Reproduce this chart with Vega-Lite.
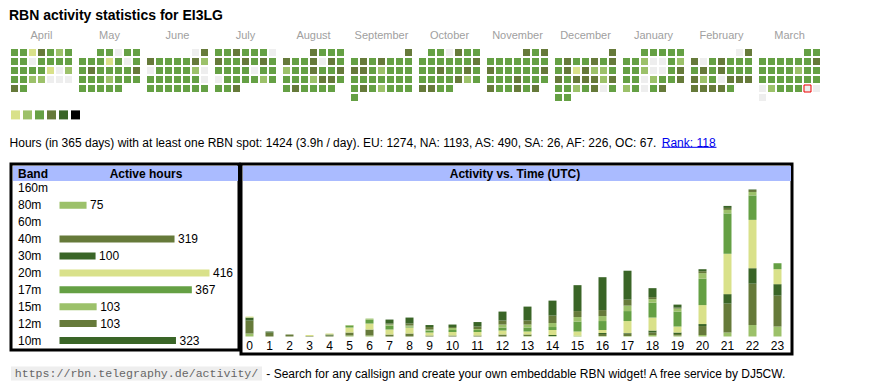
{
  "$schema": "https://vega.github.io/schema/vega-lite/v6.json",
  "background": "white",
  "padding": {"left": 8, "top": 9, "right": 5, "bottom": 5},
  "title": {"text": "RBN activity statistics for EI3LG", "anchor": "start", "fontSize": 14, "fontWeight": "bold", "font": "Liberation Sans", "color": "#000000", "offset": 7},
  "config": {
    "view": {"stroke": null},
    "font": "Liberation Sans",
    "axis": {"labelFont": "Liberation Sans", "titleFont": "Liberation Sans"},
    "header": {"labelFont": "Liberation Sans"},
    "text": {"font": "Liberation Sans"}
  },
  "datasets": {
    "cal": [
      {"m":"April","w":0,"r":0,"l":3},{"m":"April","w":1,"r":0,"l":3},{"m":"April","w":2,"r":0,"l":1},{"m":"April","w":3,"r":0,"l":4},{"m":"April","w":4,"r":0,"l":3},{"m":"April","w":5,"r":0,"l":2},{"m":"April","w":6,"r":0,"l":3},
      {"m":"April","w":0,"r":1,"l":3},{"m":"April","w":1,"r":1,"l":3},{"m":"April","w":2,"r":1,"l":0},{"m":"April","w":3,"r":1,"l":3},{"m":"April","w":4,"r":1,"l":3},{"m":"April","w":5,"r":1,"l":3},{"m":"April","w":6,"r":1,"l":3},
      {"m":"April","w":0,"r":2,"l":3},{"m":"April","w":1,"r":2,"l":3},{"m":"April","w":2,"r":2,"l":3},{"m":"April","w":3,"r":2,"l":3},{"m":"April","w":4,"r":2,"l":1},{"m":"April","w":5,"r":2,"l":0},{"m":"April","w":6,"r":2,"l":2},
      {"m":"April","w":0,"r":3,"l":3},{"m":"April","w":1,"r":3,"l":3},{"m":"April","w":2,"r":3,"l":2},{"m":"April","w":3,"r":3,"l":2},{"m":"April","w":4,"r":3,"l":0},{"m":"April","w":5,"r":3,"l":0},{"m":"April","w":6,"r":3,"l":0},
      {"m":"April","w":0,"r":4,"l":4},{"m":"April","w":1,"r":4,"l":3},
      {"m":"May","w":2,"r":0,"l":3},{"m":"May","w":3,"r":0,"l":3},{"m":"May","w":4,"r":0,"l":0},{"m":"May","w":5,"r":0,"l":3},{"m":"May","w":6,"r":0,"l":3},
      {"m":"May","w":0,"r":1,"l":3},{"m":"May","w":1,"r":1,"l":3},{"m":"May","w":2,"r":1,"l":3},{"m":"May","w":3,"r":1,"l":1},{"m":"May","w":4,"r":1,"l":3},{"m":"May","w":5,"r":1,"l":0},{"m":"May","w":6,"r":1,"l":3},
      {"m":"May","w":0,"r":2,"l":3},{"m":"May","w":1,"r":2,"l":4},{"m":"May","w":2,"r":2,"l":3},{"m":"May","w":3,"r":2,"l":3},{"m":"May","w":4,"r":2,"l":3},{"m":"May","w":5,"r":2,"l":3},{"m":"May","w":6,"r":2,"l":4},
      {"m":"May","w":0,"r":3,"l":3},{"m":"May","w":1,"r":3,"l":3},{"m":"May","w":2,"r":3,"l":3},{"m":"May","w":3,"r":3,"l":2},{"m":"May","w":4,"r":3,"l":3},{"m":"May","w":5,"r":3,"l":3},{"m":"May","w":6,"r":3,"l":3},
      {"m":"May","w":0,"r":4,"l":3},{"m":"May","w":1,"r":4,"l":3},{"m":"May","w":2,"r":4,"l":3},{"m":"May","w":3,"r":4,"l":3},{"m":"May","w":4,"r":4,"l":3},
      {"m":"June","w":5,"r":0,"l":0},{"m":"June","w":6,"r":0,"l":4},
      {"m":"June","w":0,"r":1,"l":4},{"m":"June","w":1,"r":1,"l":3},{"m":"June","w":2,"r":1,"l":3},{"m":"June","w":3,"r":1,"l":3},{"m":"June","w":4,"r":1,"l":3},{"m":"June","w":5,"r":1,"l":4},{"m":"June","w":6,"r":1,"l":2},
      {"m":"June","w":0,"r":2,"l":0},{"m":"June","w":1,"r":2,"l":3},{"m":"June","w":2,"r":2,"l":3},{"m":"June","w":3,"r":2,"l":3},{"m":"June","w":4,"r":2,"l":3},{"m":"June","w":5,"r":2,"l":2},{"m":"June","w":6,"r":2,"l":0},
      {"m":"June","w":0,"r":3,"l":3},{"m":"June","w":1,"r":3,"l":3},{"m":"June","w":2,"r":3,"l":3},{"m":"June","w":3,"r":3,"l":3},{"m":"June","w":4,"r":3,"l":3},{"m":"June","w":5,"r":3,"l":3},{"m":"June","w":6,"r":3,"l":0},
      {"m":"June","w":0,"r":4,"l":3},{"m":"June","w":1,"r":4,"l":3},{"m":"June","w":2,"r":4,"l":3},{"m":"June","w":3,"r":4,"l":3},{"m":"June","w":4,"r":4,"l":3},{"m":"June","w":5,"r":4,"l":3},{"m":"June","w":6,"r":4,"l":3},
      {"m":"July","w":0,"r":0,"l":3},{"m":"July","w":1,"r":0,"l":3},{"m":"July","w":2,"r":0,"l":4},{"m":"July","w":3,"r":0,"l":3},{"m":"July","w":4,"r":0,"l":3},{"m":"July","w":5,"r":0,"l":3},{"m":"July","w":6,"r":0,"l":0},
      {"m":"July","w":0,"r":1,"l":4},{"m":"July","w":1,"r":1,"l":3},{"m":"July","w":2,"r":1,"l":3},{"m":"July","w":3,"r":1,"l":4},{"m":"July","w":4,"r":1,"l":3},{"m":"July","w":5,"r":1,"l":4},{"m":"July","w":6,"r":1,"l":3},
      {"m":"July","w":0,"r":2,"l":3},{"m":"July","w":1,"r":2,"l":3},{"m":"July","w":2,"r":2,"l":3},{"m":"July","w":3,"r":2,"l":3},{"m":"July","w":4,"r":2,"l":0},{"m":"July","w":5,"r":2,"l":3},{"m":"July","w":6,"r":2,"l":3},
      {"m":"July","w":0,"r":3,"l":0},{"m":"July","w":1,"r":3,"l":3},{"m":"July","w":2,"r":3,"l":3},{"m":"July","w":3,"r":3,"l":3},{"m":"July","w":4,"r":3,"l":3},{"m":"July","w":5,"r":3,"l":2},{"m":"July","w":6,"r":3,"l":3},
      {"m":"July","w":0,"r":4,"l":3},{"m":"July","w":1,"r":4,"l":3},{"m":"July","w":2,"r":4,"l":4},
      {"m":"August","w":3,"r":0,"l":4},{"m":"August","w":4,"r":0,"l":3},{"m":"August","w":5,"r":0,"l":3},{"m":"August","w":6,"r":0,"l":3},
      {"m":"August","w":0,"r":1,"l":4},{"m":"August","w":1,"r":1,"l":3},{"m":"August","w":2,"r":1,"l":3},{"m":"August","w":3,"r":1,"l":4},{"m":"August","w":4,"r":1,"l":0},{"m":"August","w":5,"r":1,"l":4},{"m":"August","w":6,"r":1,"l":3},
      {"m":"August","w":0,"r":2,"l":2},{"m":"August","w":1,"r":2,"l":3},{"m":"August","w":2,"r":2,"l":3},{"m":"August","w":3,"r":2,"l":4},{"m":"August","w":4,"r":2,"l":3},{"m":"August","w":5,"r":2,"l":3},{"m":"August","w":6,"r":2,"l":4},
      {"m":"August","w":0,"r":3,"l":3},{"m":"August","w":1,"r":3,"l":3},{"m":"August","w":2,"r":3,"l":3},{"m":"August","w":3,"r":3,"l":2},{"m":"August","w":4,"r":3,"l":4},{"m":"August","w":5,"r":3,"l":4},{"m":"August","w":6,"r":3,"l":3},
      {"m":"August","w":0,"r":4,"l":3},{"m":"August","w":1,"r":4,"l":4},{"m":"August","w":2,"r":4,"l":3},{"m":"August","w":3,"r":4,"l":3},{"m":"August","w":4,"r":4,"l":3},{"m":"August","w":5,"r":4,"l":3},
      {"m":"September","w":6,"r":0,"l":4},
      {"m":"September","w":0,"r":1,"l":3},{"m":"September","w":1,"r":1,"l":4},{"m":"September","w":2,"r":1,"l":3},{"m":"September","w":3,"r":1,"l":4},{"m":"September","w":4,"r":1,"l":3},{"m":"September","w":5,"r":1,"l":3},{"m":"September","w":6,"r":1,"l":3},
      {"m":"September","w":0,"r":2,"l":4},{"m":"September","w":1,"r":2,"l":4},{"m":"September","w":2,"r":2,"l":3},{"m":"September","w":3,"r":2,"l":2},{"m":"September","w":4,"r":2,"l":3},{"m":"September","w":5,"r":2,"l":3},{"m":"September","w":6,"r":2,"l":3},
      {"m":"September","w":0,"r":3,"l":3},{"m":"September","w":1,"r":3,"l":3},{"m":"September","w":2,"r":3,"l":3},{"m":"September","w":3,"r":3,"l":3},{"m":"September","w":4,"r":3,"l":3},{"m":"September","w":5,"r":3,"l":3},{"m":"September","w":6,"r":3,"l":3},
      {"m":"September","w":0,"r":4,"l":3},{"m":"September","w":1,"r":4,"l":4},{"m":"September","w":2,"r":4,"l":3},{"m":"September","w":3,"r":4,"l":2},{"m":"September","w":4,"r":4,"l":3},{"m":"September","w":5,"r":4,"l":3},{"m":"September","w":6,"r":4,"l":3},
      {"m":"September","w":0,"r":5,"l":3},
      {"m":"October","w":1,"r":0,"l":3},{"m":"October","w":2,"r":0,"l":3},{"m":"October","w":3,"r":0,"l":0},{"m":"October","w":4,"r":0,"l":4},{"m":"October","w":5,"r":0,"l":3},{"m":"October","w":6,"r":0,"l":3},
      {"m":"October","w":0,"r":1,"l":3},{"m":"October","w":1,"r":1,"l":3},{"m":"October","w":2,"r":1,"l":3},{"m":"October","w":3,"r":1,"l":3},{"m":"October","w":4,"r":1,"l":3},{"m":"October","w":5,"r":1,"l":3},{"m":"October","w":6,"r":1,"l":4},
      {"m":"October","w":0,"r":2,"l":3},{"m":"October","w":1,"r":2,"l":3},{"m":"October","w":2,"r":2,"l":4},{"m":"October","w":3,"r":2,"l":3},{"m":"October","w":4,"r":2,"l":3},{"m":"October","w":5,"r":2,"l":4},{"m":"October","w":6,"r":2,"l":3},
      {"m":"October","w":0,"r":3,"l":3},{"m":"October","w":1,"r":3,"l":3},{"m":"October","w":2,"r":3,"l":3},{"m":"October","w":3,"r":3,"l":3},{"m":"October","w":4,"r":3,"l":4},{"m":"October","w":5,"r":3,"l":2},{"m":"October","w":6,"r":3,"l":3},
      {"m":"October","w":0,"r":4,"l":4},{"m":"October","w":1,"r":4,"l":4},{"m":"October","w":2,"r":4,"l":3},{"m":"October","w":3,"r":4,"l":3},
      {"m":"November","w":4,"r":0,"l":4},{"m":"November","w":5,"r":0,"l":3},{"m":"November","w":6,"r":0,"l":4},
      {"m":"November","w":0,"r":1,"l":3},{"m":"November","w":1,"r":1,"l":3},{"m":"November","w":2,"r":1,"l":3},{"m":"November","w":3,"r":1,"l":3},{"m":"November","w":4,"r":1,"l":3},{"m":"November","w":5,"r":1,"l":3},{"m":"November","w":6,"r":1,"l":3},
      {"m":"November","w":0,"r":2,"l":4},{"m":"November","w":1,"r":2,"l":3},{"m":"November","w":2,"r":2,"l":3},{"m":"November","w":3,"r":2,"l":3},{"m":"November","w":4,"r":2,"l":3},{"m":"November","w":5,"r":2,"l":3},{"m":"November","w":6,"r":2,"l":4},
      {"m":"November","w":0,"r":3,"l":3},{"m":"November","w":1,"r":3,"l":3},{"m":"November","w":2,"r":3,"l":3},{"m":"November","w":3,"r":3,"l":4},{"m":"November","w":4,"r":3,"l":3},{"m":"November","w":5,"r":3,"l":3},{"m":"November","w":6,"r":3,"l":3},
      {"m":"November","w":0,"r":4,"l":4},{"m":"November","w":1,"r":4,"l":3},{"m":"November","w":2,"r":4,"l":3},{"m":"November","w":3,"r":4,"l":4},{"m":"November","w":4,"r":4,"l":3},{"m":"November","w":5,"r":4,"l":4},
      {"m":"December","w":6,"r":0,"l":4},
      {"m":"December","w":0,"r":1,"l":3},{"m":"December","w":1,"r":1,"l":4},{"m":"December","w":2,"r":1,"l":3},{"m":"December","w":3,"r":1,"l":3},{"m":"December","w":4,"r":1,"l":4},{"m":"December","w":5,"r":1,"l":3},{"m":"December","w":6,"r":1,"l":4},
      {"m":"December","w":0,"r":2,"l":3},{"m":"December","w":1,"r":2,"l":4},{"m":"December","w":2,"r":2,"l":1},{"m":"December","w":3,"r":2,"l":4},{"m":"December","w":4,"r":2,"l":2},{"m":"December","w":5,"r":2,"l":2},{"m":"December","w":6,"r":2,"l":3},
      {"m":"December","w":0,"r":3,"l":4},{"m":"December","w":1,"r":3,"l":3},{"m":"December","w":2,"r":3,"l":4},{"m":"December","w":3,"r":3,"l":4},{"m":"December","w":4,"r":3,"l":4},{"m":"December","w":5,"r":3,"l":2},{"m":"December","w":6,"r":3,"l":4},
      {"m":"December","w":0,"r":4,"l":3},{"m":"December","w":1,"r":4,"l":3},{"m":"December","w":2,"r":4,"l":2},{"m":"December","w":3,"r":4,"l":3},{"m":"December","w":4,"r":4,"l":4},{"m":"December","w":5,"r":4,"l":0},{"m":"December","w":6,"r":4,"l":3},
      {"m":"December","w":0,"r":5,"l":3},{"m":"December","w":1,"r":5,"l":3},
      {"m":"January","w":2,"r":0,"l":3},{"m":"January","w":3,"r":0,"l":3},{"m":"January","w":4,"r":0,"l":3},{"m":"January","w":5,"r":0,"l":3},{"m":"January","w":6,"r":0,"l":3},
      {"m":"January","w":0,"r":1,"l":3},{"m":"January","w":1,"r":1,"l":3},{"m":"January","w":2,"r":1,"l":2},{"m":"January","w":3,"r":1,"l":0},{"m":"January","w":4,"r":1,"l":0},{"m":"January","w":5,"r":1,"l":3},{"m":"January","w":6,"r":1,"l":2},
      {"m":"January","w":0,"r":2,"l":3},{"m":"January","w":1,"r":2,"l":3},{"m":"January","w":2,"r":2,"l":2},{"m":"January","w":3,"r":2,"l":0},{"m":"January","w":4,"r":2,"l":0},{"m":"January","w":5,"r":2,"l":3},{"m":"January","w":6,"r":2,"l":4},
      {"m":"January","w":0,"r":3,"l":3},{"m":"January","w":1,"r":3,"l":3},{"m":"January","w":2,"r":3,"l":0},{"m":"January","w":3,"r":3,"l":2},{"m":"January","w":4,"r":3,"l":3},{"m":"January","w":5,"r":3,"l":3},{"m":"January","w":6,"r":3,"l":4},
      {"m":"January","w":0,"r":4,"l":2},{"m":"January","w":1,"r":4,"l":3},{"m":"January","w":2,"r":4,"l":0},{"m":"January","w":3,"r":4,"l":3},{"m":"January","w":4,"r":4,"l":4},
      {"m":"February","w":5,"r":0,"l":0},{"m":"February","w":6,"r":0,"l":4},
      {"m":"February","w":0,"r":1,"l":4},{"m":"February","w":1,"r":1,"l":0},{"m":"February","w":2,"r":1,"l":3},{"m":"February","w":3,"r":1,"l":4},{"m":"February","w":4,"r":1,"l":3},{"m":"February","w":5,"r":1,"l":3},{"m":"February","w":6,"r":1,"l":3},
      {"m":"February","w":0,"r":2,"l":3},{"m":"February","w":1,"r":2,"l":4},{"m":"February","w":2,"r":2,"l":3},{"m":"February","w":3,"r":2,"l":4},{"m":"February","w":4,"r":2,"l":3},{"m":"February","w":5,"r":2,"l":3},{"m":"February","w":6,"r":2,"l":3},
      {"m":"February","w":0,"r":3,"l":4},{"m":"February","w":1,"r":3,"l":2},{"m":"February","w":2,"r":3,"l":3},{"m":"February","w":3,"r":3,"l":0},{"m":"February","w":4,"r":3,"l":4},{"m":"February","w":5,"r":3,"l":4},{"m":"February","w":6,"r":3,"l":4},
      {"m":"February","w":0,"r":4,"l":4},{"m":"February","w":1,"r":4,"l":4},{"m":"February","w":2,"r":4,"l":4},{"m":"February","w":3,"r":4,"l":4},{"m":"February","w":4,"r":4,"l":3},
      {"m":"March","w":5,"r":0,"l":3},{"m":"March","w":6,"r":0,"l":3},
      {"m":"March","w":0,"r":1,"l":3},{"m":"March","w":1,"r":1,"l":3},{"m":"March","w":2,"r":1,"l":3},{"m":"March","w":3,"r":1,"l":3},{"m":"March","w":4,"r":1,"l":3},{"m":"March","w":5,"r":1,"l":3},{"m":"March","w":6,"r":1,"l":4},
      {"m":"March","w":0,"r":2,"l":3},{"m":"March","w":1,"r":2,"l":3},{"m":"March","w":2,"r":2,"l":3},{"m":"March","w":3,"r":2,"l":3},{"m":"March","w":4,"r":2,"l":2},{"m":"March","w":5,"r":2,"l":3},{"m":"March","w":6,"r":2,"l":3},
      {"m":"March","w":0,"r":3,"l":3},{"m":"March","w":1,"r":3,"l":3},{"m":"March","w":2,"r":3,"l":3},{"m":"March","w":3,"r":3,"l":3},{"m":"March","w":4,"r":3,"l":3},{"m":"March","w":5,"r":3,"l":3},{"m":"March","w":6,"r":3,"l":3},
      {"m":"March","w":0,"r":4,"l":0},{"m":"March","w":1,"r":4,"l":2},{"m":"March","w":2,"r":4,"l":3},{"m":"March","w":3,"r":4,"l":3},{"m":"March","w":4,"r":4,"l":3},{"m":"March","w":5,"r":4,"l":0,"t":1},{"m":"March","w":6,"r":4,"l":0},
      {"m":"March","w":0,"r":5,"l":0}
    ],
    "bands": [
      {"band":"80m","hours":75},{"band":"40m","hours":319},{"band":"30m","hours":100},{"band":"20m","hours":416},
      {"band":"17m","hours":367},{"band":"15m","hours":103},{"band":"12m","hours":103},{"band":"10m","hours":323}
    ],
    "hourly": [
      {"hour":0,"band":"80m","wl":80,"hours":6},{"hour":0,"band":"40m","wl":40,"hours":26},{"hour":0,"band":"30m","wl":30,"hours":6},{"hour":0,"band":"20m","wl":20,"hours":2},
      {"hour":1,"band":"40m","wl":40,"hours":8},{"hour":1,"band":"30m","wl":30,"hours":2},
      {"hour":2,"band":"40m","wl":40,"hours":4},
      {"hour":3,"band":"40m","wl":40,"hours":1},{"hour":3,"band":"20m","wl":20,"hours":2},
      {"hour":4,"band":"40m","wl":40,"hours":2},{"hour":4,"band":"30m","wl":30,"hours":2},{"hour":4,"band":"20m","wl":20,"hours":2},
      {"hour":5,"band":"80m","wl":80,"hours":2},{"hour":5,"band":"40m","wl":40,"hours":6},{"hour":5,"band":"20m","wl":20,"hours":10},{"hour":5,"band":"17m","wl":17,"hours":4},{"hour":5,"band":"15m","wl":15,"hours":1},
      {"hour":6,"band":"80m","wl":80,"hours":2},{"hour":6,"band":"40m","wl":40,"hours":12},{"hour":6,"band":"20m","wl":20,"hours":12},{"hour":6,"band":"17m","wl":17,"hours":8},{"hour":6,"band":"15m","wl":15,"hours":2},
      {"hour":7,"band":"40m","wl":40,"hours":4},{"hour":7,"band":"20m","wl":20,"hours":10},{"hour":7,"band":"17m","wl":17,"hours":8},{"hour":7,"band":"15m","wl":15,"hours":2},{"hour":7,"band":"12m","wl":12,"hours":2},{"hour":7,"band":"10m","wl":10,"hours":8},
      {"hour":8,"band":"40m","wl":40,"hours":6},{"hour":8,"band":"20m","wl":20,"hours":12},{"hour":8,"band":"17m","wl":17,"hours":2},{"hour":8,"band":"15m","wl":15,"hours":2},{"hour":8,"band":"12m","wl":12,"hours":4},{"hour":8,"band":"10m","wl":10,"hours":12},
      {"hour":9,"band":"40m","wl":40,"hours":2},{"hour":9,"band":"20m","wl":20,"hours":6},{"hour":9,"band":"17m","wl":17,"hours":4},{"hour":9,"band":"15m","wl":15,"hours":2},{"hour":9,"band":"12m","wl":12,"hours":5},{"hour":9,"band":"10m","wl":10,"hours":4},
      {"hour":10,"band":"40m","wl":40,"hours":2},{"hour":10,"band":"20m","wl":20,"hours":7},{"hour":10,"band":"17m","wl":17,"hours":4},{"hour":10,"band":"15m","wl":15,"hours":4},{"hour":10,"band":"12m","wl":12,"hours":2},{"hour":10,"band":"10m","wl":10,"hours":5},
      {"hour":11,"band":"40m","wl":40,"hours":2},{"hour":11,"band":"20m","wl":20,"hours":7},{"hour":11,"band":"17m","wl":17,"hours":4},{"hour":11,"band":"15m","wl":15,"hours":2},{"hour":11,"band":"12m","wl":12,"hours":5},{"hour":11,"band":"10m","wl":10,"hours":9},
      {"hour":12,"band":"40m","wl":40,"hours":4},{"hour":12,"band":"20m","wl":20,"hours":8},{"hour":12,"band":"17m","wl":17,"hours":6},{"hour":12,"band":"15m","wl":15,"hours":6},{"hour":12,"band":"12m","wl":12,"hours":8},{"hour":12,"band":"10m","wl":10,"hours":18},
      {"hour":13,"band":"80m","wl":80,"hours":1},{"hour":13,"band":"40m","wl":40,"hours":2},{"hour":13,"band":"30m","wl":30,"hours":1},{"hour":13,"band":"20m","wl":20,"hours":6},{"hour":13,"band":"17m","wl":17,"hours":8},{"hour":13,"band":"15m","wl":15,"hours":6},{"hour":13,"band":"12m","wl":12,"hours":8},{"hour":13,"band":"10m","wl":10,"hours":28},
      {"hour":14,"band":"80m","wl":80,"hours":1},{"hour":14,"band":"30m","wl":30,"hours":2},{"hour":14,"band":"20m","wl":20,"hours":10},{"hour":14,"band":"17m","wl":17,"hours":6},{"hour":14,"band":"15m","wl":15,"hours":8},{"hour":14,"band":"12m","wl":12,"hours":15},{"hour":14,"band":"10m","wl":10,"hours":30},
      {"hour":15,"band":"80m","wl":80,"hours":2},{"hour":15,"band":"20m","wl":20,"hours":8},{"hour":15,"band":"17m","wl":17,"hours":20},{"hour":15,"band":"15m","wl":15,"hours":9},{"hour":15,"band":"12m","wl":12,"hours":12},{"hour":15,"band":"10m","wl":10,"hours":52},
      {"hour":16,"band":"80m","wl":80,"hours":1},{"hour":16,"band":"40m","wl":40,"hours":4},{"hour":16,"band":"30m","wl":30,"hours":2},{"hour":16,"band":"20m","wl":20,"hours":6},{"hour":16,"band":"17m","wl":17,"hours":18},{"hour":16,"band":"15m","wl":15,"hours":10},{"hour":16,"band":"12m","wl":12,"hours":12},{"hour":16,"band":"10m","wl":10,"hours":66},
      {"hour":17,"band":"80m","wl":80,"hours":1},{"hour":17,"band":"40m","wl":40,"hours":5},{"hour":17,"band":"30m","wl":30,"hours":1},{"hour":17,"band":"20m","wl":20,"hours":24},{"hour":17,"band":"17m","wl":17,"hours":20},{"hour":17,"band":"15m","wl":15,"hours":11},{"hour":17,"band":"12m","wl":12,"hours":12},{"hour":17,"band":"10m","wl":10,"hours":58},
      {"hour":18,"band":"80m","wl":80,"hours":3},{"hour":18,"band":"40m","wl":40,"hours":5},{"hour":18,"band":"30m","wl":30,"hours":4},{"hour":18,"band":"20m","wl":20,"hours":26},{"hour":18,"band":"17m","wl":17,"hours":30},{"hour":18,"band":"15m","wl":15,"hours":7},{"hour":18,"band":"12m","wl":12,"hours":4},{"hour":18,"band":"10m","wl":10,"hours":18},
      {"hour":19,"band":"80m","wl":80,"hours":2},{"hour":19,"band":"40m","wl":40,"hours":3},{"hour":19,"band":"30m","wl":30,"hours":3},{"hour":19,"band":"20m","wl":20,"hours":12},{"hour":19,"band":"17m","wl":17,"hours":30},{"hour":19,"band":"15m","wl":15,"hours":6},{"hour":19,"band":"12m","wl":12,"hours":2},{"hour":19,"band":"10m","wl":10,"hours":6},
      {"hour":20,"band":"80m","wl":80,"hours":3},{"hour":20,"band":"40m","wl":40,"hours":18},{"hour":20,"band":"30m","wl":30,"hours":4},{"hour":20,"band":"20m","wl":20,"hours":38},{"hour":20,"band":"17m","wl":17,"hours":53},{"hour":20,"band":"15m","wl":15,"hours":11},{"hour":20,"band":"12m","wl":12,"hours":4},{"hour":20,"band":"10m","wl":10,"hours":4},
      {"hour":21,"band":"80m","wl":80,"hours":8},{"hour":21,"band":"40m","wl":40,"hours":58},{"hour":21,"band":"30m","wl":30,"hours":19},{"hour":21,"band":"20m","wl":20,"hours":81},{"hour":21,"band":"17m","wl":17,"hours":81},{"hour":21,"band":"15m","wl":15,"hours":7},{"hour":21,"band":"12m","wl":12,"hours":4},{"hour":21,"band":"10m","wl":10,"hours":4},
      {"hour":22,"band":"80m","wl":80,"hours":23},{"hour":22,"band":"40m","wl":40,"hours":83},{"hour":22,"band":"30m","wl":30,"hours":31},{"hour":22,"band":"20m","wl":20,"hours":97},{"hour":22,"band":"17m","wl":17,"hours":49},{"hour":22,"band":"15m","wl":15,"hours":7},{"hour":22,"band":"12m","wl":12,"hours":4},{"hour":22,"band":"10m","wl":10,"hours":1},
      {"hour":23,"band":"80m","wl":80,"hours":20},{"hour":23,"band":"40m","wl":40,"hours":62},{"hour":23,"band":"30m","wl":30,"hours":23},{"hour":23,"band":"20m","wl":20,"hours":30},{"hour":23,"band":"17m","wl":17,"hours":12}
    ]
  },
  "spacing": 0,
  "vconcat": [
    {
      "spacing": 9.4,
      "vconcat": [
        {
          "data": {"name": "cal"},
          "facet": {"column": {"field": "m", "type": "nominal",
            "sort": ["April","May","June","July","August","September","October","November","December","January","February","March"],
            "header": {"title": null, "labelFontSize": 11, "labelColor": "#a0a0a0", "labelPadding": 8}}},
          "spacing": {"column": 7},
          "spec": {
            "width": 61, "height": 52,
            "mark": {"type": "rect", "strokeWidth": 1},
            "encoding": {
              "x": {"field": "w", "type": "ordinal", "axis": null, "scale": {"domain": [0,1,2,3,4,5,6], "paddingInner": 0.2222, "paddingOuter": 0}},
              "y": {"field": "r", "type": "ordinal", "axis": null, "scale": {"domain": [0,1,2,3,4,5], "paddingInner": 0.2222, "paddingOuter": 0}},
              "color": {"field": "l", "type": "ordinal", "legend": null, "scale": {"domain": [0,1,2,3,4,5,6], "range": ["#eeeeee","#d9e18a","#9cc16a","#65a044","#667a3a","#3a6527","#000000"]}},
              "stroke": {"condition": {"test": "datum.t === 1", "value": "#ee0000"}, "value": null}
            }
          }
        },
        {
          "data": {"values": [{"l":1},{"l":2},{"l":3},{"l":4},{"l":5},{"l":6}]},
          "width": 69, "height": 9,
          "mark": "rect",
          "encoding": {
            "x": {"field": "l", "type": "ordinal", "axis": null, "scale": {"paddingInner": 0.25, "paddingOuter": 0}},
            "color": {"field": "l", "type": "ordinal", "legend": null, "scale": {"domain": [0,1,2,3,4,5,6], "range": ["#eeeeee","#d9e18a","#9cc16a","#65a044","#667a3a","#3a6527","#000000"]}}
          }
        }
      ]
    },
    {
      "spacing": 3.3,
      "hconcat": [
        {
          "data": {"values": [{"t": "Hours (in 365 days) with at least one RBN spot: 1424 (3.9h / day). EU: 1274, NA: 1193, AS: 490, SA: 26, AF: 226, OC: 67."}]},
          "width": 644, "height": 41.8,
          "mark": {"type": "text", "fontSize": 12, "color": "#000000", "dy": 1.8},
          "encoding": {"text": {"field": "t"}}
        },
        {
          "data": {"values": [{"t": "Rank: 118"}]},
          "width": 54.7, "height": 41.8,
          "mark": {"type": "text", "fontSize": 12, "color": "#0000ee", "dy": 1.8},
          "encoding": {
            "text": {"field": "t"},
            "x": {"field": "t", "type": "nominal", "scale": {"paddingInner": 0, "paddingOuter": 0},
                  "axis": {"orient": "bottom", "labels": false, "ticks": false, "grid": false, "title": null, "domain": true, "domainColor": "#0000ee", "domainWidth": 1, "offset": -15}}
          }
        }
      ]
    },
    {
      "spacing": 10.5,
      "vconcat": [
        {
          "spacing": -2,
          "hconcat": [
            {
              "data": {"name": "bands"},
              "width": 228, "height": 186,
              "view": {"stroke": "#000000", "strokeWidth": 3},
              "encoding": {
                "y": {"field": "band", "type": "nominal",
                      "scale": {"domain": ["160m","80m","60m","40m","30m","20m","17m","15m","12m","10m"], "paddingInner": 0, "paddingOuter": 0.5, "align": 0.94},
                      "axis": {"orient": "left", "title": "Band", "titleAngle": 0, "titleAlign": "left", "titleBaseline": "middle", "titleX": 6.5, "titleY": 9, "titleFontSize": 12, "titleFontWeight": "bold", "titleColor": "#000000",
                               "labelAlign": "left", "labelPadding": -6.5, "labelFontSize": 12, "labelColor": "#000000", "ticks": false, "domain": false, "grid": false}},
                "x": {"field": "hours", "type": "quantitative",
                      "scale": {"domain": [-109.55, 472.85], "range": [9, 219], "nice": false, "zero": false, "padding": 0},
                      "axis": {"orient": "top", "labels": false, "ticks": false, "grid": false, "domain": true, "domainColor": "#aabbff", "domainWidth": 15, "domainCap": "square", "offset": -9,
                               "title": "Active hours", "titleFontSize": 12, "titleFontWeight": "bold", "titleColor": "#000000", "titleX": 134.5, "titleY": 0, "titleBaseline": "middle", "titleAlign": "center"}}
              },
              "layer": [
                {
                  "mark": {"type": "bar", "size": 7},
                  "encoding": {
                    "x2": {"datum": 0},
                    "fill": {"field": "band", "type": "nominal", "legend": null,
                             "scale": {"domain": ["160m","80m","60m","40m","30m","20m","17m","15m","12m","10m"], "range": ["#9cc16a","#9cc16a","#667a3a","#667a3a","#3a6527","#d9e18a","#65a044","#9cc16a","#667a3a","#3a6527"]}}
                  }
                },
                {
                  "mark": {"type": "text", "align": "left", "dx": 3.5, "fontSize": 12, "color": "#000000"},
                  "encoding": {
                    "text": {"field": "hours", "type": "quantitative"}
                  }
                }
              ]
            },
            {
              "width": 551, "height": 190,
              "view": {"stroke": "#000000", "strokeWidth": 3},
              "layer": [
                {
                  "data": {"name": "hourly"},
                  "mark": {"type": "bar", "size": 8},
                  "encoding": {
                    "x": {"field": "hour", "type": "quantitative",
                          "scale": {"domain": [0.025, 9, 10, 23.22], "range": [9, 188.5, 211.5, 542], "nice": false, "zero": false, "padding": 0},
                          "axis": {"orient": "top", "labels": false, "ticks": false, "grid": false, "domain": true, "domainColor": "#aabbff", "domainWidth": 15, "domainCap": "square", "offset": -9,
                                   "title": "Activity vs. Time (UTC)", "titleFontSize": 12, "titleFontWeight": "bold", "titleColor": "#000000", "titleX": 273.5, "titleY": 0, "titleBaseline": "middle", "titleAlign": "center"}},
                    "y": {"field": "hours", "type": "quantitative", "stack": "zero",
                          "scale": {"domain": [0, 313], "range": [172.5, 16.5], "nice": false, "zero": false}, "axis": null},
                    "fill": {"field": "band", "type": "nominal", "legend": null,
                             "scale": {"domain": ["160m","80m","60m","40m","30m","20m","17m","15m","12m","10m"], "range": ["#9cc16a","#9cc16a","#667a3a","#667a3a","#3a6527","#d9e18a","#65a044","#9cc16a","#667a3a","#3a6527"]}},
                    "order": {"field": "wl", "type": "quantitative", "sort": "descending"}
                  }
                },
                {
                  "data": {"values": [{"hour":0},{"hour":1},{"hour":2},{"hour":3},{"hour":4},{"hour":5},{"hour":6},{"hour":7},{"hour":8},{"hour":9},{"hour":10},{"hour":11},{"hour":12},{"hour":13},{"hour":14},{"hour":15},{"hour":16},{"hour":17},{"hour":18},{"hour":19},{"hour":20},{"hour":21},{"hour":22},{"hour":23}]},
                  "mark": {"type": "text", "fontSize": 12, "dy": 9, "color": "#000000"},
                  "encoding": {
                    "x": {"field": "hour", "type": "quantitative",
                          "axis": {"orient": "top", "labels": false, "ticks": false, "grid": false, "domain": true, "domainColor": "#aabbff", "domainWidth": 15, "domainCap": "square", "offset": -9,
                                   "title": "Activity vs. Time (UTC)", "titleFontSize": 12, "titleFontWeight": "bold", "titleColor": "#000000", "titleX": 273.5, "titleY": 0, "titleBaseline": "middle", "titleAlign": "center"}},
                    "y": {"datum": 0, "type": "quantitative", "axis": null},
                    "text": {"field": "hour", "type": "quantitative"}
                  }
                }
              ]
            }
          ]
        },
        {
          "spacing": 3.3,
          "hconcat": [
            {
              "data": {"values": [{"t": "https://rbn.telegraphy.de/activity/"}]},
              "width": 251, "height": 14,
              "view": {"fill": "#eeeeee", "stroke": null},
              "mark": {"type": "text", "font": "Liberation Mono", "fontSize": 11.6, "color": "#666666"},
              "encoding": {"text": {"field": "t"}}
            },
            {
              "data": {"values": [{"t": "- Search for any callsign and create your own embeddable RBN widget! A free service by DJ5CW."}]},
              "width": 521, "height": 14,
              "mark": {"type": "text", "fontSize": 12, "color": "#000000"},
              "encoding": {"text": {"field": "t"}}
            }
          ]
        }
      ]
    }
  ]
}
